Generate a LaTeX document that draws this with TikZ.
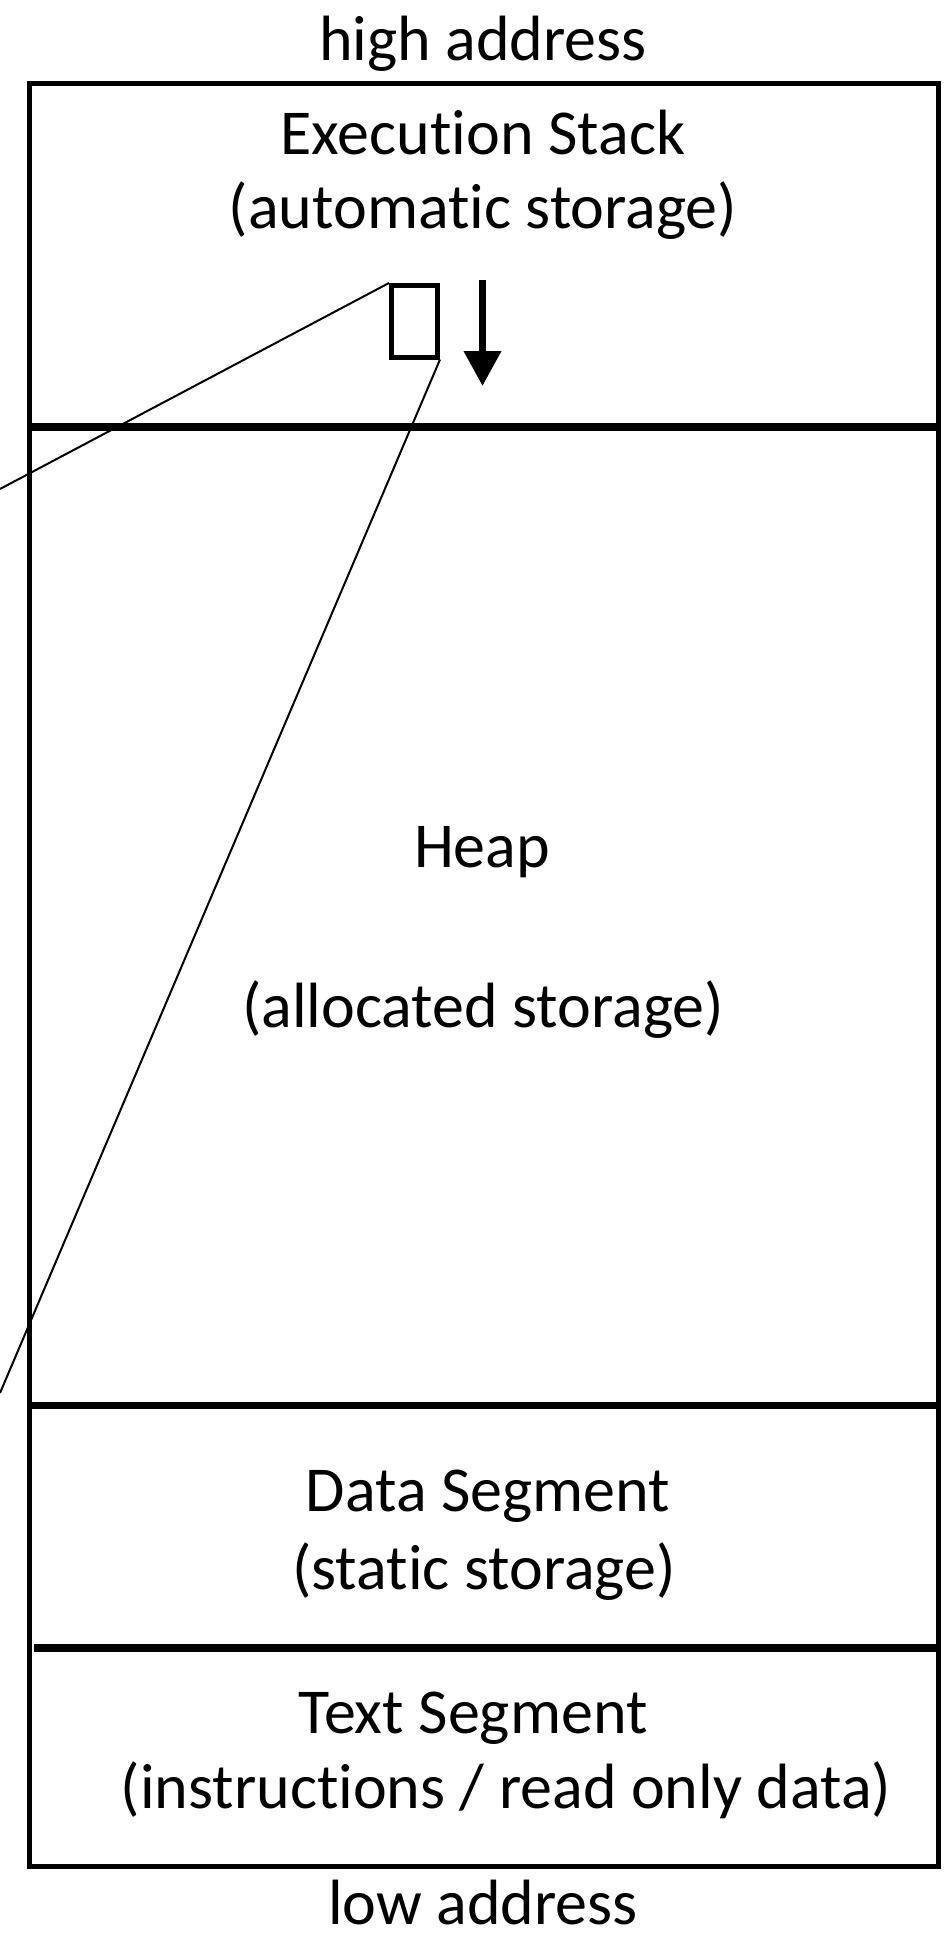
\documentclass[tikz,border=0pt]{standalone}
\usepackage{fontspec}
\setmainfont[Ligatures=NoCommon]{Carlito}
\usetikzlibrary{arrows.meta}
\begin{document}
\begin{tikzpicture}[x=1pt,y=-1pt,
  lbl/.style={anchor=base,inner sep=0pt,font=\fontsize{64}{76}\selectfont},
  frame/.style={line width=5pt},
  divider/.style={line width=7.5pt},
  slotbox/.style={draw,line width=5pt,minimum width=46pt,minimum height=71.5pt,inner sep=0pt},
  pointer/.style={line width=2pt},
  growth/.style={line width=7pt,-{Triangle[length=35pt,width=36pt]}}]
\useasboundingbox (0,0) rectangle (952,1938);
% outer frame and dividers
\draw[frame] (29,83) rectangle (938.5,1866.5);
\coordinate (d1l) at (29,427);      \coordinate (d1r) at (938.5,427);
\coordinate (d2l) at (29,1405.5);   \coordinate (d2r) at (938.5,1405.5);
\coordinate (d3l) at (34,1648);     \coordinate (d3r) at (938.5,1648);
\draw[divider] (d1l) -- (d1r);
\draw[divider] (d2l) -- (d2r);
\draw[divider] (d3l) -- (d3r);
% labels
\node[lbl] (high) at (483,60) {high address};
\node[lbl] (stack1) at (483,154) {Execution Stack};
\node[lbl] (stack2) at (483,228) {(automatic storage)};
\node[lbl] (heap1) at (482,867) {Heap};
\node[lbl] (heap2) at (483,1027) {(allocated storage)};
\node[lbl] (data1) at (488,1511) {Data Segment};
\node[lbl] (data2) at (484,1589) {(static storage)};
\node[lbl] (text1) at (473,1733) {Text Segment};
\node[lbl] (text2) at (506,1808) {(instructions / read only data)};
\node[lbl] (low) at (483,1924) {low address};
% stack frame slot and growth arrow
\node[slotbox] (slot) at (414.5,321.25) {};
\coordinate (arrtop) at (482.5,280);
\coordinate (arrtip) at (482.5,386);
\draw[growth] (arrtop) -- (arrtip);
% zoom lines
\coordinate (z1) at (0,489);
\coordinate (z2) at (0,1393);
\draw[pointer] (slot.north west) -- (z1);
\draw[pointer] (slot.south east) -- (z2);
\end{tikzpicture}
\end{document}
